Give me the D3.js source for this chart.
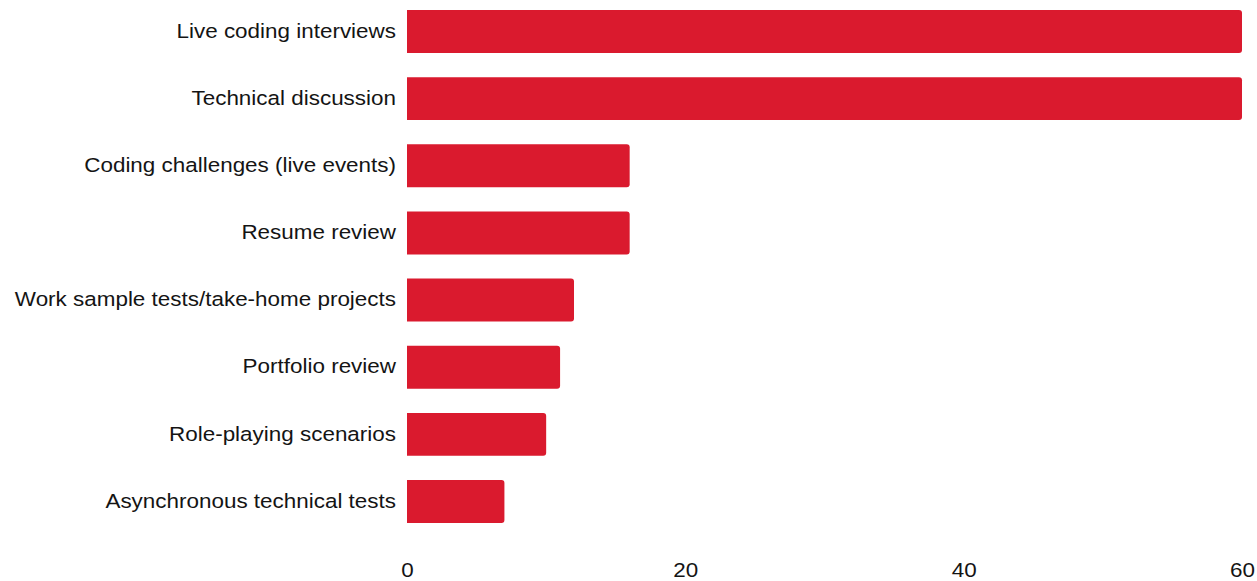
<!DOCTYPE html>
<html>
<head>
<meta charset="utf-8">
<script src="https://cdn.jsdelivr.net/npm/d3@7"></script>
<style>
  html, body { margin: 0; padding: 0; background: #fff; }
  svg { display: block; }
  text { font-family: "Liberation Sans", Arial, sans-serif; }
</style>
</head>
<body>
<svg id="chart" width="1257" height="581"></svg>
<script>
const categories = [
  "Live coding interviews",
  "Technical discussion",
  "Coding challenges (live events)",
  "Resume review",
  "Work sample tests/take-home projects",
  "Portfolio review",
  "Role-playing scenarios",
  "Asynchronous technical tests"
];
const values = [60, 60, 16, 16, 12, 11, 10, 7];
const tickValues = [0, 20, 40, 60];

const barColor = "#da1a2e";
const textColor = "#141414";
const fontSize = 20.5;
const stretch = 1.095; // slightly widened lettering

const svg = d3.select("#chart");

const x = d3.scaleLinear().domain([0, 60]).range([407, 1242]);
const y = d3.scaleBand().domain(categories).range([10, 523]).paddingInner(0.36).paddingOuter(0);

const data = categories.map((c, i) => ({ cat: c, val: values[i] }));

// bar with rounded right-hand corners only
function barPath(x0, x1, y0, h, r) {
  const rr = Math.min(r, (x1 - x0) / 2, h / 2);
  return `M${x0},${y0}H${x1 - rr}Q${x1},${y0} ${x1},${y0 + rr}V${y0 + h - rr}Q${x1},${y0 + h} ${x1 - rr},${y0 + h}H${x0}Z`;
}

svg.append("g").selectAll("path")
  .data(data)
  .join("path")
  .attr("d", d => barPath(x(0), x(d.val), y(d.cat), y.bandwidth(), 3))
  .attr("fill", barColor);

// category labels
const yAxis = d3.axisLeft(y).tickSize(0).tickPadding(11);
const gy = svg.append("g").attr("transform", `translate(${x(0)},0)`).call(yAxis);
gy.select(".domain").remove();
gy.selectAll("text")
  .attr("x", 0)
  .attr("transform", `translate(-11,0) scale(${stretch},1)`)
  .attr("dy", "0.3em")
  .attr("font-size", fontSize)
  .attr("font-family", "'Liberation Sans', Arial, sans-serif")
  .attr("fill", textColor);

// value axis
const xAxis = d3.axisBottom(x).tickValues(tickValues).tickSize(0).tickPadding(0).tickFormat(d3.format("d"));
const gx = svg.append("g").attr("transform", `translate(0,577)`).call(xAxis);
gx.select(".domain").remove();
gx.selectAll("text")
  .attr("y", 0)
  .attr("dy", 0)
  .attr("transform", `scale(${stretch},1)`)
  .attr("font-size", fontSize)
  .attr("font-family", "'Liberation Sans', Arial, sans-serif")
  .attr("fill", textColor);
</script>
</body>
</html>
